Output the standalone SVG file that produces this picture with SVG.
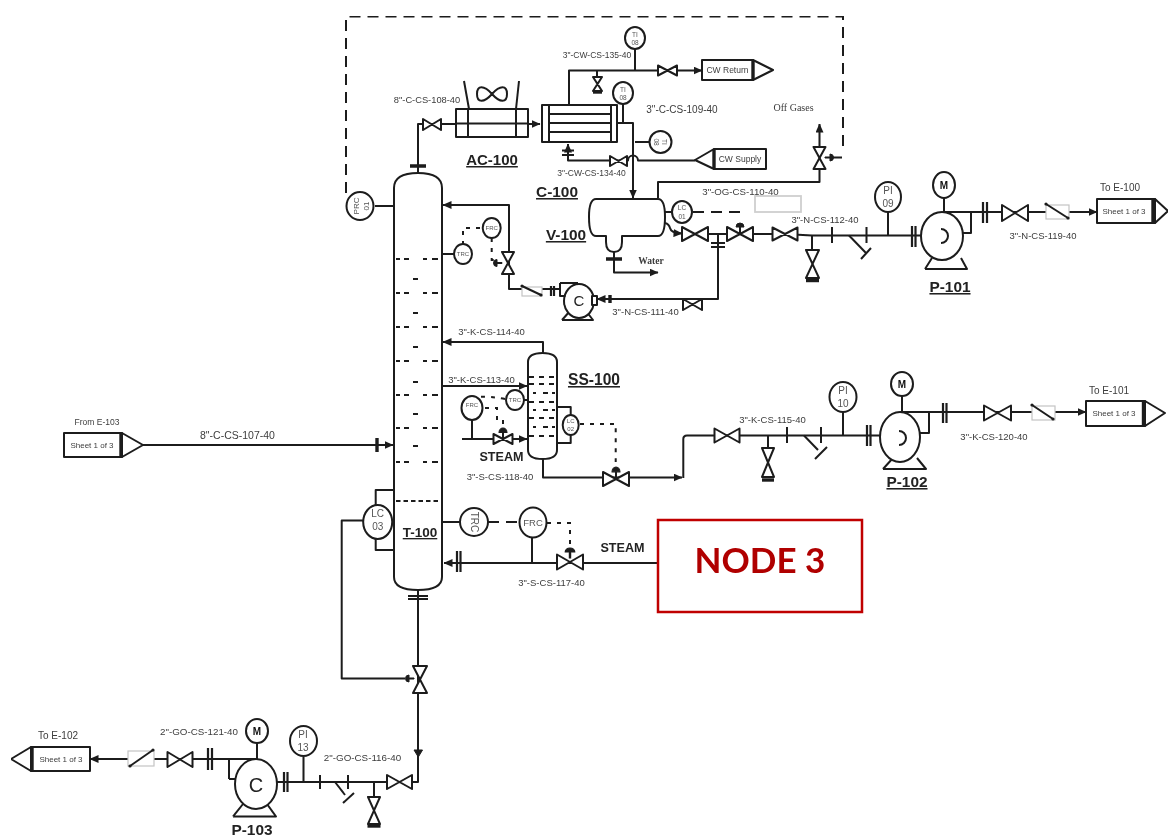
<svg xmlns="http://www.w3.org/2000/svg" xmlns:xlink="http://www.w3.org/1999/xlink" width="1169" height="839" viewBox="0 0 1169 839">
<style>
text{font-family:"Liberation Sans",Arial,sans-serif;fill:#3c3c3c;text-anchor:middle;dominant-baseline:central}
.s{fill:none;stroke:#1c1c1c;stroke-width:2;stroke-linejoin:round}
.w{fill:#fff;stroke:#1c1c1c;stroke-width:2;stroke-linejoin:round}
.b{fill:#1c1c1c;stroke:#1c1c1c;stroke-width:1}
.th{fill:none;stroke:#1c1c1c;stroke-width:2.2}
.t3{fill:none;stroke:#1c1c1c;stroke-width:3.4}
.d{fill:none;stroke:#1c1c1c;stroke-width:2;stroke-dasharray:4 6}
.dl{fill:none;stroke:#1c1c1c;stroke-width:2;stroke-dasharray:11 7}
.ns{vector-effect:non-scaling-stroke}
.tag{font-weight:700;fill:#222;text-decoration:underline;dominant-baseline:auto}
.st{font-weight:700;fill:#222;font-size:12.6px}
.i{font-size:6.500px;fill:#555}
.g{fill:#fff;stroke:#c4c4c4;stroke-width:1.2}
.sr{font-family:"Liberation Serif",serif}
</style>
<defs>
<filter id="soft" x="0" y="0" width="100%" height="100%"><feGaussianBlur stdDeviation="0.4"/></filter>
<polygon id="vh" class="w ns" points="-1,-1 1,1 1,-1 -1,1"/>
<polygon id="vv" class="w ns" points="-1,-1 1,-1 -1,1 1,1"/>
<path id="act" class="b" d="M-4,4 A4,4 0 0 1 4,4 Z M-0.5,4 V10 H0.5 V4 Z"/>
<path id="actl" class="b" d="M0,-3.500 A3.500,3.500 0 0 0 0,3.500 Z M0,-0.500 H5 V0.500 H0 Z"/>
<marker id="a" markerUnits="userSpaceOnUse" markerWidth="9" markerHeight="8" refX="8.500" refY="4" orient="auto"><path d="M0,0 L9,4 L0,8 Z" fill="#1c1c1c"/></marker>
<path id="tray" class="s" d="M396,0 h4 M404,0 h5 M423,0 h4 M432,0 h6"/>
<circle id="dot" r="1.600" fill="#1c1c1c"/>
</defs>
<rect width="1169" height="839" fill="#fff"/>
<g filter="url(#soft)">
<g id="connectors">
<path class="dl" d="M346,193 V16.500 H843 V152"/>
<path class="s" d="M375,206 H394"/>
<path class="s" d="M418,173 V124 H540" marker-end="url(#a)"/>
<path class="s" d="M569,105 V70.500 H702" marker-end="url(#a)"/>
<path class="s" d="M635,49 V70.500 M597,70.500 V78"/>
<path class="s" d="M617,123 H633 V198" marker-end="url(#a)"/>
<path class="s" d="M623,104 V123"/>
<path class="s" d="M635,142 H650"/>
<path class="s" d="M695,160.500 H638 A5,5 0 0 0 628,160.500 H568 V144" marker-end="url(#a)"/>
<path class="s" d="M658,198 V182 H819.500 V124" marker-end="url(#a)"/>
<path class="s" d="M831,157.500 H842"/>
<path class="s" d="M665,223 Q669,224 670,228 Q671,233 682,233.500" marker-end="url(#a)"/>
<path class="s" d="M708,234 H785 M785,234 L812,235.500 H921"/>
<path class="s" d="M718,234 V299 H597" marker-end="url(#a)"/>
<path class="s" d="M560,289 H509 V205 H443" marker-end="url(#a)"/>
<path class="s" d="M614,252 V272.500 H658" marker-end="url(#a)"/>
<path class="s" d="M665,212 H672"/>
<path class="dl" d="M693,212 H740"/>
<path class="s" d="M442,254 H454"/>
<path class="d" d="M463,245 V228 H482 M491.700,238 V260 H495"/>
<path class="s" d="M543,353 V342 H443" marker-end="url(#a)"/>
<path class="s" d="M442,386 H527" marker-end="url(#a)"/>
<path class="s" d="M462,439 H527" marker-end="url(#a)"/>
<path class="s" d="M472,420 V439 M523,400 H528 M557,407 H570.700 V416 M557,443 H570.700 V434"/>
<path class="d" d="M505,399 Q490,396 478,397 M485,408 H497 V420 H503 V428 M580,424 H615.700 V462"/>
<path class="s" d="M543,459 V477.500 H682" marker-end="url(#a)"/>
<path class="s" d="M683.300,478 V439 Q683.300,435.500 687,435.500 H880"/>
<path class="s" d="M768,435.500 V448 M843,412 V435.500"/>
<path class="s" d="M929,412 V433 H920"/>
<path class="s" d="M929,412 H1086" marker-end="url(#a)"/>
<path class="s" d="M971,212 V233 H963"/>
<path class="s" d="M971,212 H1097" marker-end="url(#a)"/>
<path class="s" d="M812,235.500 V250 M888,212 V235.500"/>
<path class="s" d="M122,445 H393" marker-end="url(#a)"/>
<path class="t3" d="M377,438 V452"/>
<path class="s" d="M442,522 H460"/>
<path class="dl" d="M488,522 H520"/>
<path class="d" d="M547,523 H570 V545"/>
<path class="s" d="M658,563 H444" marker-end="url(#a)"/>
<path class="s" d="M532,537 V563"/>
<path class="s" d="M363,520.500 H341.700 V678.500 H405"/>
<path class="s" d="M375.700,505 V490 H394 M375.700,539 V550 H394"/>
<path class="s" d="M418,590 V782 H277"/>
<path class="s" d="M229,759 H90" marker-end="url(#a)"/>
<polygon class="b" points="414,750 422.500,750 418.300,757"/>
<path class="s" d="M303.500,757 V782 M374,782 V797"/>
<path class="s" d="M229,779 H237 M229,759 V779"/>
<path class="t3" d="M410,166 H426 M606,259 H622 M610,295 V303"/>
<path class="th" d="M562,150.500 H574 M562,155 H574"/>
<path class="th" d="M711,243 H725 M711,247 H725"/>
<path class="th" d="M551,286 V296 M554,286 V296"/>
<path class="th" d="M912,226 V247 M915.500,226 V247 M983,202 V223 M987,202 V223"/>
<path class="th" d="M867,425 V446 M870.500,425 V446 M943,403 V423 M946.500,403 V423"/>
<path class="th" d="M457,551 V572 M460.500,551 V572 M408,596 H428 M408,599 H428"/>
<path class="th" d="M284,772 V792 M287.500,772 V792 M208,748 V770 M212,748 V770"/>
<path class="s" d="M832,227 V243 M866.500,227 V243 M849,235.500 L866,253 M871,248 L861,259"/>
<path class="s" d="M787,427 V443 M821,427 V443 M804,435.500 L818,450 M827,447 L815,459"/>
<path class="s" d="M320,775 V789 M348,775 V789 M335,782 L345,795 M354,793 L343,803"/>
</g>
<g id="T-100">
<path class="w" d="M394,577 V188 Q394,173 418,173 Q442,173 442,188 V577 Q442,590 418,590 Q394,590 394,577 Z"/>
<use href="#tray" y="259"/><use href="#tray" y="293"/><use href="#tray" y="327"/><use href="#tray" y="361"/><use href="#tray" y="395"/><use href="#tray" y="428"/><use href="#tray" y="462"/>
<path class="s" d="M413,279 h5 M413,313 h5 M413,347 h5 M413,382 h5 M413,414 h5 M413,446 h5"/>
<path class="s" d="M396,501 H438" stroke-dasharray="4.500 3"/>
<text class="tag" x="420" y="537" font-size="13.500">T-100</text>
</g>
<g id="AC-100">
<rect class="w" x="456" y="109" width="72" height="28"/>
<path class="s" d="M468,109 V137 M516,109 V137 M464,81 L469,109 M519,81 L516,109 M456,123.500 H528"/>
<path class="s" d="M492,94 C484,85 477,85 477,94 C477,103 484,103 492,94 C500,85 507,85 507,94 C507,103 500,103 492,94 Z"/>
<text class="tag" x="492" y="165" font-size="15">AC-100</text>
</g>
<g id="C-100">
<rect class="w" x="542" y="105" width="75" height="37"/>
<path class="s" d="M549,105 V142 M611,105 V142 M549,114 H611 M549,123 H611 M549,132 H611"/>
<text class="tag" x="557" y="197" font-size="15.400">C-100</text>
</g>
<g id="V-100">
<path class="w" d="M596,199 H658 Q665,199 665,217 Q665,236 658,236 H622 V242 Q622,252 614,252 Q606,252 606,242 V236 H596 Q589,236 589,217 Q589,199 596,199 Z"/>
<text class="tag" x="566" y="240" font-size="15.400">V-100</text>
</g>
<g id="SS-100">
<path class="w" d="M528,362 Q528,353 542.500,353 Q557,353 557,362 V450 Q557,459 542.500,459 Q528,459 528,450 Z"/>
<path class="s" stroke-dasharray="5 5" d="M529,377 H557 M529,384 H557 M529,402 H557 M529,418 H557 M529,436 H557"/>
<path class="s" stroke-dasharray="3 7 5 4" d="M533,393 H557 M533,410 H557 M533,427 H557"/>
<text class="tag" x="594" y="385" font-size="15.600">SS-100</text>
</g>
<g id="valves">
<use href="#vh" transform="translate(432,124.500) scale(9,5.500)"/>
<use href="#vh" transform="translate(667.500,70.500) scale(9.500,5)"/>
<use href="#vv" transform="translate(597.500,84) scale(4.500,7)"/>
<path class="t3" d="M593,92 H602"/>
<use href="#vh" transform="translate(618.500,161) scale(8.500,5)"/>
<use href="#vv" transform="translate(819.500,158) scale(6,11)"/>
<use href="#actl" transform="translate(830,157.500) scale(-1,1)"/>
<use href="#vh" transform="translate(695,234) scale(13,7)"/>
<use href="#vh" transform="translate(740,234) scale(13,7)"/>
<use href="#act" transform="translate(740,223)"/>
<use href="#vh" transform="translate(785,234) scale(12.500,6.500)"/>
<use href="#vv" transform="translate(812.500,264) scale(6.500,14)"/>
<path class="t3" d="M806,280.500 H819"/>
<use href="#vh" transform="translate(1015,213) scale(13,8)"/>
<use href="#vh" transform="translate(692.500,304.500) scale(9.500,5.500)"/>
<use href="#vv" transform="translate(508,263) scale(6,11)"/>
<use href="#actl" transform="translate(497,263)"/>
<use href="#vh" transform="translate(503,439) scale(9.500,5)"/>
<use href="#act" transform="translate(503,428) scale(1,1.100)"/>
<use href="#vh" transform="translate(616,479) scale(13,7)"/>
<use href="#act" transform="translate(616,467) scale(1,1.200)"/>
<use href="#vh" transform="translate(727,435.500) scale(12.500,7)"/>
<use href="#vv" transform="translate(768,462.500) scale(6,14.500)"/>
<path class="t3" d="M762,480 H774"/>
<use href="#vh" transform="translate(997.500,413) scale(13.500,7.500)"/>
<use href="#vh" transform="translate(570,562) scale(13,7.500)"/>
<use href="#act" transform="translate(570,548) scale(1.200,1)"/>
<use href="#vv" transform="translate(420,679.500) scale(7,13.500)"/>
<use href="#actl" transform="translate(409,678.500)"/>
<use href="#vh" transform="translate(399.500,782) scale(12.500,7)"/>
<use href="#vv" transform="translate(374,810.500) scale(6,13.500)"/>
<path class="t3" d="M367.500,826 H380.500"/>
<use href="#vh" transform="translate(180,759.500) scale(12.500,7.500)"/>
</g>
<g id="check-valves">
<rect class="g" x="522" y="287" width="20" height="9"/>
<path class="s" d="M522,286 L541,295"/><use href="#dot" x="522" y="286"/><use href="#dot" x="541" y="295"/>
<rect class="g" x="1046" y="205" width="23" height="14"/>
<path class="s" d="M1046,204 L1068,218"/><use href="#dot" x="1046" y="204"/><use href="#dot" x="1068" y="218"/>
<rect class="g" x="1032" y="406" width="23" height="14"/>
<path class="s" d="M1032,405 L1053,419"/><use href="#dot" x="1032" y="405"/><use href="#dot" x="1053" y="419"/>
<rect class="g" x="128" y="751" width="26" height="15"/>
<path class="s" d="M130,766 L153,750"/><use href="#dot" x="130" y="766"/><use href="#dot" x="153" y="750"/>
</g>
<g id="PRC-01"><ellipse class="w" cx="360" cy="206" rx="13.500" ry="14"/><text class="i" style="font-size:8px" transform="translate(356,206) rotate(-90)">PRC</text><text class="i" style="font-size:8px" transform="translate(366,206) rotate(-90)">01</text></g>
<g id="TI-top"><ellipse class="w" cx="635" cy="38" rx="10" ry="11"/><text class="i" x="635" y="34">TI</text><text class="i" x="635" y="42.500">08</text></g>
<g id="TI-mid"><ellipse class="w" cx="623" cy="93" rx="10" ry="11"/><text class="i" x="623" y="89">TI</text><text class="i" x="623" y="97.500">08</text></g>
<g id="TI-rot"><ellipse class="w" cx="660.500" cy="142" rx="11" ry="11"/><text class="i" transform="translate(664.500,142) rotate(90)">TI</text><text class="i" transform="translate(656,142) rotate(90)">08</text></g>
<g id="LC-01"><ellipse class="w" cx="682" cy="212" rx="10" ry="11"/><text class="i" x="682" y="207.500">LC</text><text class="i" x="682" y="216.500">01</text></g>
<g id="PI-09"><ellipse class="w" cx="888" cy="197" rx="13" ry="15"/><text x="888" y="190" font-size="10" style="fill:#555">PI</text><text x="888" y="203" font-size="10" style="fill:#555">09</text></g>
<g id="PI-10"><ellipse class="w" cx="843" cy="397" rx="13.500" ry="15"/><text x="843" y="390" font-size="10" style="fill:#555">PI</text><text x="843" y="403" font-size="10" style="fill:#555">10</text></g>
<g id="PI-13"><ellipse class="w" cx="303.500" cy="741" rx="13.500" ry="15"/><text x="303" y="734" font-size="10" style="fill:#555">PI</text><text x="303" y="747" font-size="10" style="fill:#555">13</text></g>
<g id="TRC-a"><ellipse class="w" cx="463" cy="254" rx="9" ry="10"/><text x="463" y="254" font-size="6" style="fill:#555">TRC</text></g>
<g id="FRC-a"><ellipse class="w" cx="491.700" cy="228" rx="9" ry="10"/><text x="491.700" y="228" font-size="6" style="fill:#555">FRC</text></g>
<g id="FRC-b"><ellipse class="w" cx="472" cy="408" rx="10.500" ry="12"/><text x="472" y="405" font-size="6" style="fill:#555">FRC</text></g>
<g id="TRC-b"><ellipse class="w" cx="515" cy="400" rx="9" ry="10"/><text x="515" y="400" font-size="6" style="fill:#555">TRC</text></g>
<g id="LC-02"><ellipse class="w" cx="570.700" cy="425" rx="8" ry="10"/><text x="570.700" y="421" font-size="6" style="fill:#555">LC</text><text x="570.700" y="429" font-size="6" style="fill:#555">02</text></g>
<g id="LC-03"><ellipse class="w" cx="377.700" cy="522" rx="14.500" ry="17"/><text x="377.700" y="513" font-size="10" style="fill:#555">LC</text><text x="377.700" y="526" font-size="10" style="fill:#555">03</text></g>
<g id="TRC-c"><ellipse class="w" cx="474" cy="522" rx="14" ry="14"/><text transform="translate(474,522) rotate(90)" font-size="10" style="fill:#555">TRC</text></g>
<g id="FRC-c"><ellipse class="w" cx="533" cy="522.500" rx="13.500" ry="15"/><text x="533" y="522.500" font-size="9.500" style="fill:#555">FRC</text></g>
<g id="P-100-small">
<path class="s" d="M562,320 H593 L586,311 M562,320 L570,311"/>
<ellipse class="w" cx="579" cy="301" rx="15" ry="17"/>
<path class="s" d="M560,283 H578 M560,283 V296 H565.500"/>
<rect class="w" x="592" y="296" width="5" height="9"/>
<text x="579" y="300" font-size="15" style="fill:#222">C</text>
</g>
<g id="P-101">
<path class="s" d="M925,269 H967 L961,258 M925,269 L932,258"/>
<ellipse class="w" cx="942" cy="236" rx="21" ry="24"/>
<path class="s" d="M943,212 H971"/>
<path class="s" d="M941,229 A7,7 0 1 1 941,243"/>
<ellipse class="w" cx="944" cy="185" rx="11" ry="13"/><path class="s" d="M944,198 V212"/>
<text x="944" y="185" font-size="10" font-weight="700" style="fill:#111">M</text>
<text class="tag" x="950" y="292" font-size="15.400">P-101</text>
</g>
<g id="P-102">
<path class="s" d="M883,469 H926 L917,458 M883,469 L893,458"/>
<ellipse class="w" cx="900" cy="437" rx="20" ry="25"/>
<path class="s" d="M900,412 H929"/>
<path class="s" d="M899,431 A7,7 0 1 1 899,445"/>
<ellipse class="w" cx="902" cy="384" rx="11" ry="12"/><path class="s" d="M902,396 V412"/>
<text x="902" y="384" font-size="10" font-weight="700" style="fill:#111">M</text>
<text class="tag" x="907" y="487" font-size="15.400">P-102</text>
</g>
<g id="P-103">
<path class="s" d="M233,816.500 H276 L267,804 M233,816.500 L243,804"/>
<ellipse class="w" cx="256" cy="784" rx="21" ry="25"/>
<path class="s" d="M229,759 H257"/>
<text x="256" y="785" font-size="20" style="fill:#222">C</text>
<ellipse class="w" cx="257" cy="731" rx="11" ry="12"/><path class="s" d="M257,743 V759"/>
<text x="257" y="731" font-size="10" font-weight="700" style="fill:#111">M</text>
<text x="252" y="829.500" font-size="15.400" font-weight="700" style="fill:#222">P-103</text>
</g>
<g id="CW-Return"><rect class="w" x="702" y="60" width="51" height="20"/><polygon class="w" points="753,60 773,70 753,80"/><path class="t3" d="M753,60 V80"/><text x="727.500" y="70" font-size="8.500">CW Return</text></g>
<g id="CW-Supply"><rect class="w" x="714" y="149" width="52" height="20"/><polygon class="w" points="714,149 695,160 714,169"/><path class="t3" d="M714,149 V169"/><text x="740" y="159" font-size="8.500">CW Supply</text></g>
<g id="To-E-100"><rect class="w" x="1097" y="199" width="58" height="24"/><polygon class="w" points="1155,199 1168,211 1155,223"/><path class="t3" d="M1153,199 V223"/><text x="1124" y="211" font-size="8">Sheet 1 of 3</text><text x="1120" y="187.500" font-size="10">To E-100</text></g>
<g id="To-E-101"><rect class="w" x="1086" y="401" width="59" height="25"/><polygon class="w" points="1145,401 1165,413 1145,426"/><path class="t3" d="M1143.500,401 V426"/><text x="1114" y="413" font-size="8">Sheet 1 of 3</text><text x="1109" y="390.500" font-size="10">To E-101</text></g>
<g id="To-E-102"><rect class="w" x="31" y="747" width="59" height="24"/><polygon class="w" points="31,747 11,759 31,771"/><path class="t3" d="M32,747 V771"/><text x="61" y="759" font-size="8">Sheet 1 of 3</text><text x="58" y="735.500" font-size="10">To E-102</text></g>
<g id="From-E-103"><rect class="w" x="64" y="433" width="58" height="24"/><polygon class="w" points="122,433 143,445 122,457"/><path class="t3" d="M121,433 V457"/><text x="92" y="445" font-size="8">Sheet 1 of 3</text><text x="97" y="421.500" font-size="8.500">From E-103</text></g>
<g id="node-3"><rect x="658" y="520" width="204" height="92" fill="#fff" stroke="#c00000" stroke-width="2.500"/><text x="760" y="559" font-size="35" font-weight="700" style="fill:#b00000;font-family:Lato,'Liberation Sans',sans-serif">NODE 3</text></g>
<rect id="blank-box" x="755" y="196" width="46" height="16" fill="#fff" stroke="#cfcfcf" stroke-width="1.800"/>
<g id="labels">
<text x="597" y="55" font-size="8.500">3"-CW-CS-135-40</text>
<text x="427" y="99.500" font-size="9.300">8"-C-CS-108-40</text>
<text x="682" y="109" font-size="10">3"-C-CS-109-40</text>
<text x="591.500" y="172.500" font-size="8.500">3"-CW-CS-134-40</text>
<text x="740.500" y="191.500" font-size="9.700">3"-OG-CS-110-40</text>
<text x="793.500" y="107.500" font-size="10" style="font-family:'Liberation Serif',serif">Off Gases</text>
<text x="651" y="260.500" font-size="9.500" font-weight="700" style="font-family:'Liberation Serif',serif">Water</text>
<text x="825" y="219" font-size="9.500">3"-N-CS-112-40</text>
<text x="1043" y="235" font-size="9.500">3"-N-CS-119-40</text>
<text x="645.500" y="311.500" font-size="9.500">3"-N-CS-111-40</text>
<text x="491.500" y="331" font-size="9.500">3"-K-CS-114-40</text>
<text x="481.500" y="379" font-size="9.500">3"-K-CS-113-40</text>
<text class="st" x="501.500" y="457">STEAM</text>
<text x="500" y="476.500" font-size="9.500">3"-S-CS-118-40</text>
<text x="772.500" y="419" font-size="9.500">3"-K-CS-115-40</text>
<text x="994" y="436.500" font-size="9.500">3"-K-CS-120-40</text>
<text x="237.500" y="435" font-size="10.500">8"-C-CS-107-40</text>
<text class="st" x="622.500" y="548">STEAM</text>
<text x="551.500" y="582" font-size="9.500">3"-S-CS-117-40</text>
<text x="199" y="731.500" font-size="9.800">2"-GO-CS-121-40</text>
<text x="362.500" y="757" font-size="9.800">2"-GO-CS-116-40</text>
</g>
</g>
</svg>
